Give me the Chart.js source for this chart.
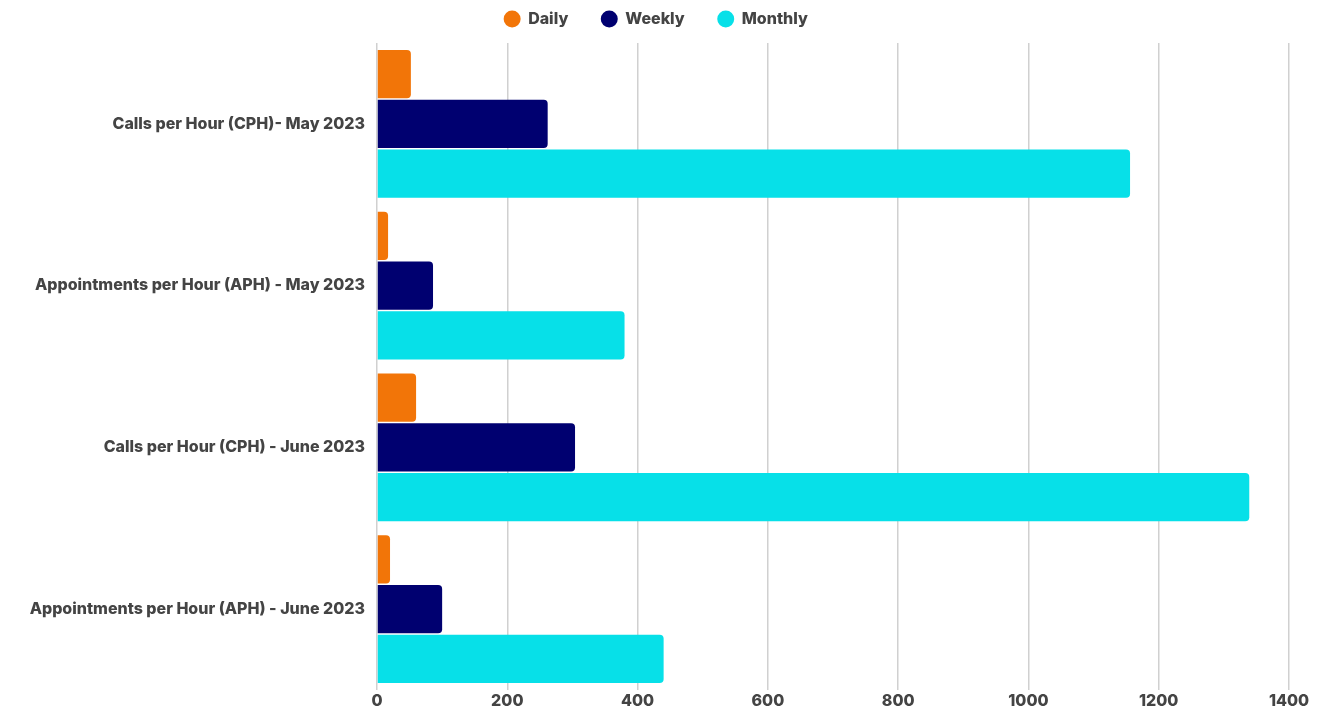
<!DOCTYPE html>
<html>
<head>
<meta charset="utf-8">
<script src="https://cdn.jsdelivr.net/npm/chart.js@4/dist/chart.umd.min.js"></script>
<style>
html,body{margin:0;padding:0;background:#fff;}
#wrap{width:1322px;height:707px;position:relative;}
</style>
</head>
<body>
<div id="wrap"><canvas id="c"></canvas></div>
<script>
const categories = [
  "Calls per Hour (CPH)- May 2023",
  "Appointments per Hour (APH) - May 2023",
  "Calls per Hour (CPH) - June 2023",
  "Appointments per Hour (APH) - June 2023"
];
const seriesNames = ["Daily", "Weekly", "Monthly"];
const daily = [52, 17, 60, 20];
const weekly = [262, 86, 304, 100];
const monthly = [1156, 380, 1339, 440];
const xTickLabels = ["0", "200", "400", "600", "800", "1000", "1200", "1400"];

const FONT = "Inter, 'Open Sans', sans-serif";
Chart.defaults.font.family = FONT;
Chart.defaults.color = "#444444";

const legendPad = {
  id: 'legendPad',
  beforeLayout(chart) {
    const lg = chart.legend;
    if (lg && !lg._padded) {
      const f = lg.fit.bind(lg);
      lg.fit = function () { f(); this.height += 6; };
      lg._padded = true;
    }
  }
};

new Chart(document.getElementById('c'), {
  type: 'bar',
  data: {
    labels: categories,
    datasets: [
      {label: seriesNames[0], data: daily, backgroundColor: '#F27508', borderRadius: 4, borderSkipped: 'start'},
      {label: seriesNames[1], data: weekly, backgroundColor: '#000070', borderRadius: 4, borderSkipped: 'start'},
      {label: seriesNames[2], data: monthly, backgroundColor: '#07E0E8', borderRadius: 4, borderSkipped: 'start'}
    ]
  },
  plugins: [legendPad],
  options: {
    indexAxis: 'y',
    responsive: true,
    maintainAspectRatio: false,
    animation: false,
    layout: {padding: {left: 23, right: 33, top: -22, bottom: 0}},
    datasets: {bar: {categoryPercentage: 0.923, barPercentage: 0.966}},
    plugins: {
      legend: {
        position: 'top',
        labels: {
          usePointStyle: true,
          pointStyle: 'circle',
          boxWidth: 16, boxHeight: 12,
          padding: 33,
          font: {size: 16, weight: '800'},
          color: '#444444'
        }
      },
      tooltip: {enabled: false}
    },
    scales: {
      x: {
        min: 0, max: 1400,
        afterFit(scale) { scale.height = 17; },
        ticks: {
          stepSize: 200,
          font: {size: 16, weight: '800', lineHeight: 1},
          color: '#444444',
          padding: 3,
          callback: (v, i) => xTickLabels[i]
        },
        grid: {color: '#d0d0d0', lineWidth: 1.5, drawTicks: false},
        border: {display: false}
      },
      y: {
        afterFit(scale) { scale.width = 354; scale.paddingTop = 0; scale.paddingBottom = 0; },
        ticks: {font: {size: 16, weight: '800', lineHeight: 1}, color: '#444444', padding: 12},
        grid: {display: false, drawTicks: false},
        border: {display: false}
      }
    }
  }
});
</script>
</body>
</html>
